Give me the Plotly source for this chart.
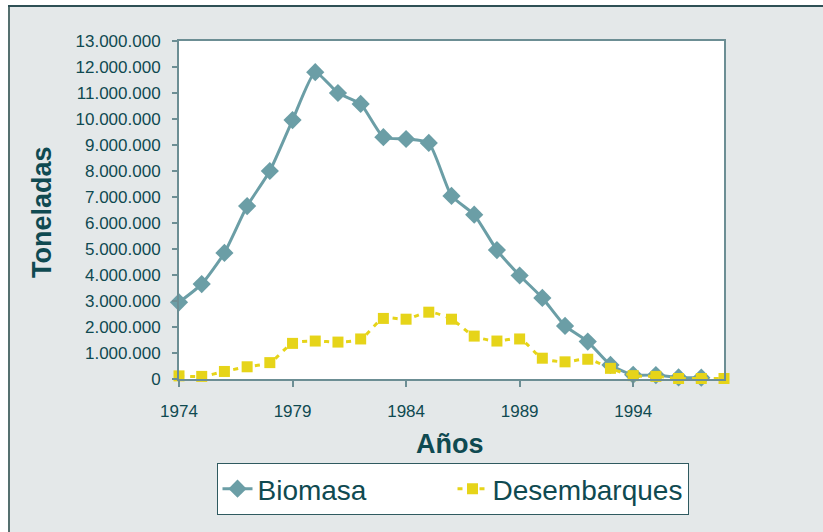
import plotly.graph_objects as go

years = list(range(1974, 1999))
biomasa = [2950000, 3650000, 4850000, 6650000, 8000000, 9960000, 11800000, 11000000,
           10580000, 9300000, 9230000, 9080000, 7040000, 6320000, 4960000, 3980000,
           3120000, 2040000, 1440000, 540000, 160000, 150000, 60000, 50000, None]
desembarques = [120000, 100000, 290000, 470000, 630000, 1370000, 1460000, 1420000,
                1540000, 2330000, 2300000, 2570000, 2300000, 1650000, 1460000, 1540000,
                800000, 660000, 760000, 410000, 130000, 100000, 20000, 20000, 20000]
x_ticks = [1974, 1979, 1984, 1989, 1994]
y_ticks = list(range(0, 13000001, 1000000))
y_ticktext = ["0", "1.000.000", "2.000.000", "3.000.000", "4.000.000", "5.000.000",
              "6.000.000", "7.000.000", "8.000.000", "9.000.000", "10.000.000",
              "11.000.000", "12.000.000", "13.000.000"]

FONT = "Liberation Sans, Arial, sans-serif"
TXT = "#0F4A51"
AX = "#6C8E94"
BG = "#E4E8E9"

fig = go.Figure()
fig.add_trace(go.Scatter(
    x=years, y=biomasa, name="Biomasa", mode="lines+markers",
    line=dict(color="#6B9EA6", width=3, shape="spline", smoothing=0.5),
    marker=dict(symbol="diamond", size=14, color="#6B9EA6"),
    cliponaxis=False, connectgaps=False,
))
fig.add_trace(go.Scatter(
    x=years, y=desembarques, name="Desembarques", mode="lines+markers",
    line=dict(color="#E6D419", width=3, dash="5px,6px", shape="spline", smoothing=0.8),
    marker=dict(symbol="square", size=11, color="#E6D419"),
    cliponaxis=False,
))

L, R, T, B = 179, 724, 41, 379
W, H = 823, 532
pw, ph = R - L, B - T

def px(xp):
    return (xp - L) / pw

def py(yp):
    return (B - yp) / ph

fig.update_layout(
    width=W, height=H,
    margin=dict(l=L, r=W - R, t=T, b=H - B, pad=0),
    paper_bgcolor=BG, plot_bgcolor="white",
    font=dict(family=FONT, color=TXT, size=17),
    showlegend=True,
    legend=dict(
        orientation="h", x=px(452.5), xanchor="center", y=py(463), yanchor="top",
        bgcolor="white", bordercolor="#2F5A60", borderwidth=1,
        font=dict(size=28, family=FONT, color=TXT),
        itemwidth=30, tracegroupgap=0, entrywidth=190,
    ),
    xaxis=dict(
        range=[1974, 1998], tickvals=x_ticks, ticks="outside", ticklen=6,
        tickcolor=AX, tickwidth=2, showline=True, linecolor=AX, linewidth=2,
        mirror=True, showgrid=False, zeroline=False, ticklabelstandoff=10,
        tickfont=dict(size=17, color=TXT),
    ),
    yaxis=dict(
        range=[0, 13000000], tickvals=y_ticks, ticktext=y_ticktext, ticks="outside",
        ticklen=5, tickcolor=AX, tickwidth=2, showline=True, linecolor=AX,
        linewidth=2, mirror=True, showgrid=False, zeroline=False,
        ticklabelstandoff=8, tickfont=dict(size=17, color=TXT),
    ),
    annotations=[
        dict(text="<b>Toneladas</b>", x=px(42), y=py(212), xref="paper", yref="paper",
             showarrow=False, textangle=-90, font=dict(size=27, color=TXT, family=FONT),
             xanchor="center", yanchor="middle"),
        dict(text="<b>Años</b>", x=px(450), y=py(444), xref="paper", yref="paper",
             showarrow=False, font=dict(size=27, color=TXT, family=FONT),
             xanchor="center", yanchor="middle"),
    ],
    shapes=[
        dict(type="rect", xref="paper", yref="paper", x0=px(-5), x1=px(8), y0=py(540),
             y1=py(-5), fillcolor="white", line=dict(width=0), layer="above"),
        dict(type="rect", xref="paper", yref="paper", x0=px(-5), x1=px(830), y0=py(5),
             y1=py(-5), fillcolor="white", line=dict(width=0), layer="above"),
        dict(type="line", xref="paper", yref="paper", x0=px(9), x1=px(9), y0=py(5),
             y1=py(540), line=dict(color="#55706F", width=2)),
        dict(type="line", xref="paper", yref="paper", x0=px(8), x1=px(830), y0=py(6),
             y1=py(6), line=dict(color="#2E5055", width=2)),
    ],
)

fig.write_html(
    "out.html",
    config={"displayModeBar": False},
    post_script="document.body.style.margin='0';document.body.style.overflow='hidden';",
)
